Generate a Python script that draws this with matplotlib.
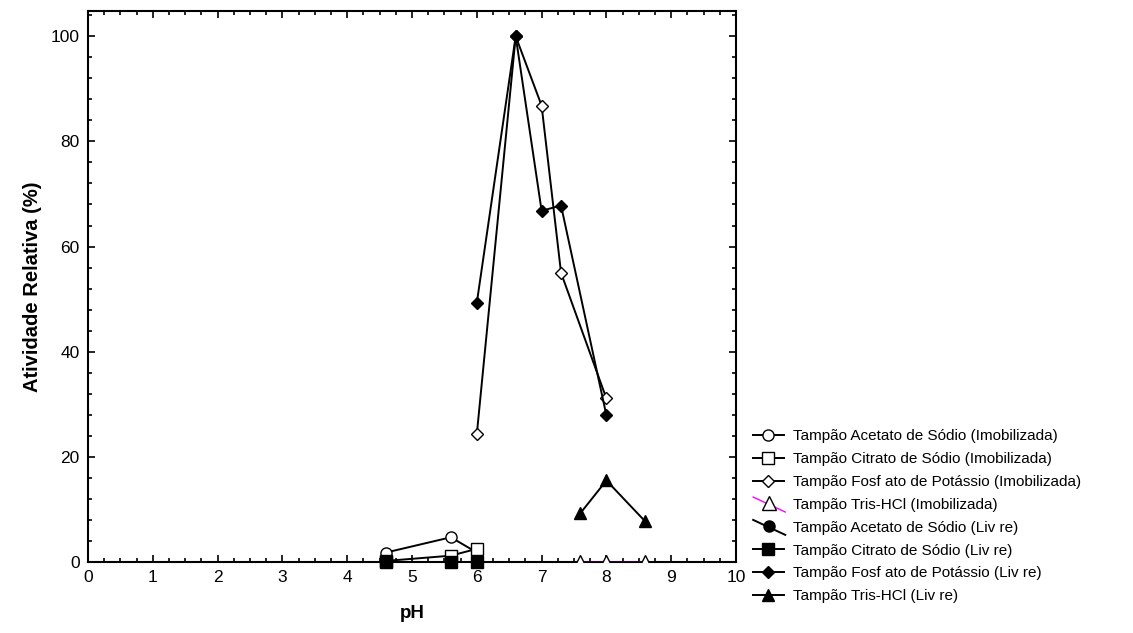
import numpy as np
import matplotlib
matplotlib.use("Agg")
import matplotlib.pyplot as plt
from matplotlib.lines import Line2D
from matplotlib.legend_handler import HandlerLine2D

plt.rcParams['font.family'] = ['Liberation Sans', 'DejaVu Sans']

# pH values and relative activity (%)
ph_acet_imob = [4.6, 5.6, 6.0]
act_acet_imob = [1.8, 4.7, 1.8]
ph_citr_imob = [4.6, 5.6, 6.0]
act_citr_imob = [0.2, 1.2, 2.5]
ph_fosf_imob = [6.0, 6.6, 7.0, 7.3, 8.0]
act_fosf_imob = [24.3, 100.0, 86.8, 55.0, 31.1]
ph_tris_imob = [7.6, 8.0, 8.6]
act_tris_imob = [0.0, 0.0, 0.0]

ph_acet_livre = [4.6, 5.6, 6.0]
act_acet_livre = [0.0, 0.0, 0.0]
ph_citr_livre = [4.6, 5.6, 6.0]
act_citr_livre = [0.0, 0.0, 0.0]
ph_fosf_livre = [6.0, 6.6, 7.0, 7.3, 8.0]
act_fosf_livre = [49.3, 100.0, 66.8, 67.8, 27.9]
ph_tris_livre = [7.6, 8.0, 8.6]
act_tris_livre = [9.3, 15.5, 7.7]

labels = [
    "Tampão Acetato de Sódio (Imobilizada)",
    "Tampão Citrato de Sódio (Imobilizada)",
    "Tampão Fosf ato de Potássio (Imobilizada)",
    "Tampão Tris-HCl (Imobilizada)",
    "Tampão Acetato de Sódio (Liv re)",
    "Tampão Citrato de Sódio (Liv re)",
    "Tampão Fosf ato de Potássio (Liv re)",
    "Tampão Tris-HCl (Liv re)",
]


class DiagHandler(HandlerLine2D):
    # legend entry drawn with a slanted line (as in the original figure)
    def create_artists(self, legend, orig_handle, xdescent, ydescent,
                       width, height, fontsize, trans):
        x0, x1 = -xdescent, -xdescent + width * 1.05
        y0, y1 = -ydescent + height * 1.1, -ydescent - height * 0.3
        ln = Line2D([x0, x1], [y0, y1], color=orig_handle.get_color(),
                    lw=orig_handle.get_linewidth(), transform=trans)
        mk = Line2D([(x0 + x1) / 2], [-ydescent + height / 2],
                    marker=orig_handle.get_marker(), ls='none',
                    markersize=orig_handle.get_markersize(),
                    markerfacecolor=orig_handle.get_markerfacecolor(),
                    markeredgecolor=orig_handle.get_markeredgecolor(),
                    transform=trans)
        return [ln, mk]


fig = plt.figure(figsize=(11.33, 6.33), dpi=100)
ax = fig.add_axes([0.0777, 0.1122, 0.5719, 0.8704])

lw = 1.4
ms = 8
handles = []
h, = ax.plot(ph_acet_imob, act_acet_imob, '-o', color='k', lw=lw, ms=ms,
             mfc='white', mec='k', clip_on=False, zorder=3)
handles.append(h)
h, = ax.plot(ph_citr_imob, act_citr_imob, '-s', color='k', lw=lw, ms=ms,
             mfc='white', mec='k', clip_on=False, zorder=3)
handles.append(h)
h, = ax.plot(ph_fosf_imob, act_fosf_imob, '-D', color='k', lw=lw, ms=6.5,
             mfc='white', mec='k', clip_on=False, zorder=3)
handles.append(h)
h, = ax.plot(ph_tris_imob, act_tris_imob, '-^', color='#ff00ff', lw=1.0, ms=10,
             mfc='white', mec='k', zorder=3)
handles.append(h)
h, = ax.plot(ph_acet_livre, act_acet_livre, '-o', color='k', lw=lw, ms=ms,
             mfc='k', mec='k', clip_on=False, zorder=3)
handles.append(h)
h, = ax.plot(ph_citr_livre, act_citr_livre, '-s', color='k', lw=lw, ms=ms,
             mfc='k', mec='k', clip_on=False, zorder=4)
handles.append(h)
h, = ax.plot(ph_fosf_livre, act_fosf_livre, '-D', color='k', lw=lw, ms=6.5,
             mfc='k', mec='k', clip_on=False, zorder=3)
handles.append(h)
h, = ax.plot(ph_tris_livre, act_tris_livre, '-^', color='k', lw=lw, ms=9,
             mfc='k', mec='k', clip_on=False, zorder=3)
handles.append(h)

ax.set_xlim(0, 10)
ax.set_ylim(0, 104.8)
ax.set_xticks(np.arange(0, 11, 1))
ax.set_xticks(np.arange(0, 10.01, 0.25), minor=True)
ax.set_yticks(np.arange(0, 101, 20))
ax.set_yticks(np.arange(0, 104.8, 4), minor=True)
ax.tick_params(which='both', direction='in', top=True, right=True,
               labelsize=12.5, width=1.2)
ax.tick_params(which='major', length=5, pad=6)
ax.tick_params(which='minor', length=3)
for s in ax.spines.values():
    s.set_linewidth(1.5)

ax.set_xlabel("pH", fontsize=13.5, fontweight='bold', labelpad=14)
ax.set_ylabel("Atividade Relativa (%)", fontsize=14.5, fontweight='bold', labelpad=6)

hmap = {handles[3]: DiagHandler(), handles[4]: DiagHandler()}
fig.legend(handles, labels, loc='upper left', bbox_to_anchor=(0.658, 0.334),
           frameon=False, fontsize=11, handlelength=2.0, handletextpad=0.6,
           labelspacing=0.58, borderpad=0, handler_map=hmap)

fig.savefig("out.png", dpi=100)
